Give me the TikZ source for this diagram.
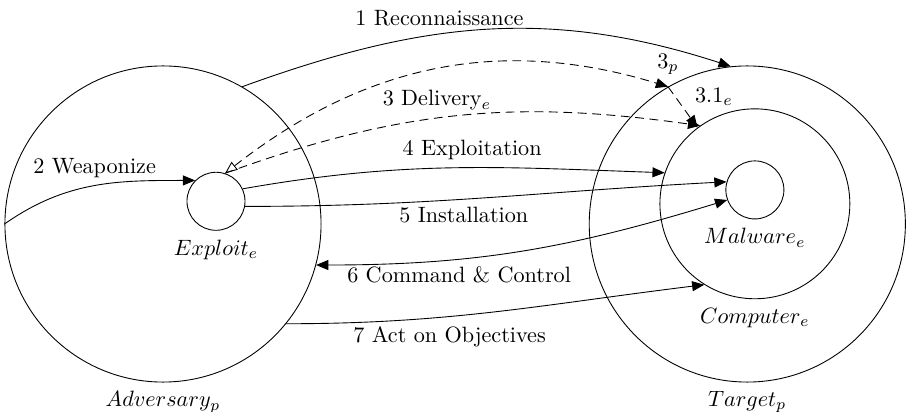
\documentclass[tikz,border=0pt]{standalone}
\usepackage{tikz}
\usetikzlibrary{positioning, arrows.meta, shapes}
\usepackage{amsmath}
\tikzstyle{party} = [circle, minimum size=5.01cm, inner sep=0pt, draw=black]
\tikzstyle{host} = [circle, minimum size=3.01cm, inner sep=0pt, draw=black]
\tikzstyle{payload} = [circle, minimum size=0.92cm, inner sep=0pt, draw=black]
\tikzstyle{arrow} = [->, >={Triangle[length=5.5pt, width=4.5pt]}]
\tikzstyle{dasharrow} = [arrow, dash pattern=on 4pt off 2.5pt]

\begin{document}
\begin{tikzpicture}[label distance=0.5pt]
    \useasboundingbox (-2.583,3.550) rectangle (11.775,-2.979);

        % Nodes
        \node (adv) [party, label={below:$Adversary_p$}] at (0,0) {};
        \node (exploit) [payload, label={below:$Exploit_e$}] at (0.84,0.36) {};
        \node (target) [party, right of=adv, node distance=9.26cm, label={below:$Target_p$}] {};
        \node (computer) [host, label={below:$Computer_e$}] at (9.38,0.32) {};
        \node (malware) [payload, label={below:$Malware_e$}] at (9.38,0.54) {};

        % Arrows
        \draw [arrow] (adv.60) to[out=20, in=162] node[pos=0.4, above] {1 Reconnaissance} (target.96);
        \draw [arrow] (adv.180) to[out=35, in=180] node[pos=0.5, above] {2 Weaponize} (exploit.135);
        \draw [dasharrow, {Triangle[open, length=5.5pt, width=4.5pt]}-{Triangle[length=5.5pt, width=4.5pt]}] (exploit.72) to[out=38, in=163] node[pos=1, above=2pt] {$3_p$} (target.120);
        \draw [dasharrow] (target.120) -- node[midway, above right, xshift=2pt, yshift=-3pt] {$3.1_e$} (computer.127);
        \draw [dasharrow] (exploit.72) to[out=20, in=172] node[pos=0.45, above] {3 Delivery$_e$} (computer.125);
        \draw [arrow] (exploit.25) to[out=10, in=178] node[pos=0.55, above] {4 Exploitation} (computer.161);
        \draw [arrow] (exploit.-10) to[out=0, in=183] node[pos=0.45, below] {5 Installation} (malware.164);
        \draw [arrow, <->] (adv.-15) to[out=0, in=197] node[pos=0.33, below] {6 Command \& Control} (malware.200);
        \draw [arrow] (adv.-39) to[out=0, in=187] node[pos=0.38, below=1pt] {7 Act on Objectives} (computer.238);

    \end{tikzpicture}
\end{document}
